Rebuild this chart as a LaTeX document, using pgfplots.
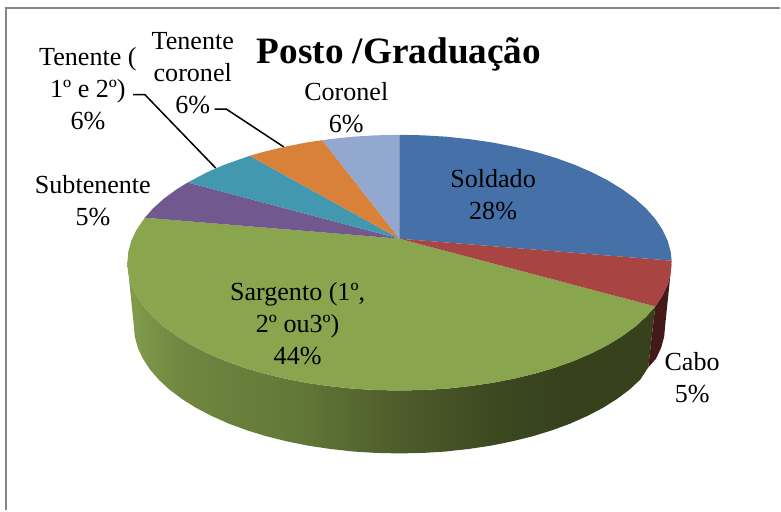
\documentclass[border=0pt]{standalone}
\usepackage{pgfplots}
\pgfplotsset{compat=1.18}
\usepackage{fontspec}
\setmainfont{Liberation Serif}
\definecolor{cSol}{HTML}{4571A8}
\definecolor{cCab}{HTML}{A84442}
\definecolor{cSar}{HTML}{89A54E}
\definecolor{cSub}{HTML}{71588F}
\definecolor{cTen}{HTML}{4198AF}
\definecolor{cTC}{HTML}{D98139}
\definecolor{cCor}{HTML}{92A8CE}
\definecolor{cCabS}{HTML}{431A19}
\definecolor{frameC}{HTML}{868686}
\definecolor{g1}{HTML}{829D4C}
\definecolor{g2}{HTML}{6F8740}
\definecolor{g3}{HTML}{627838}
\definecolor{g4}{HTML}{4D5C2B}
\definecolor{g5}{HTML}{3C4820}
\definecolor{g6}{HTML}{37421D}
\pgfdeclarehorizontalshading{sideg}{100bp}{color(0bp)=(g1); color(25bp)=(g1); color(30bp)=(g2); color(41bp)=(g3); color(51bp)=(g4); color(60bp)=(g5); color(66bp)=(g6); color(100bp)=(g6)}
\tikzset{lbl/.style={font=\fontsize{26.2}{32}\selectfont, align=center, text=black, inner sep=0pt, anchor=center}}
\begin{document}
\begin{tikzpicture}
\begin{axis}[scale only axis, width=781bp, height=511bp,
  xmin=0, xmax=781, ymin=0, ymax=511, y dir=reverse,
  axis lines=none, clip=false, no markers]
\path (axis cs:0,0) rectangle (axis cs:781,511);
% chart frame
\addplot[frameC, line width=2pt] coordinates {(781,7.7) (5.7,7.7) (5.7,511)};
% side of Sargento
\addplot[draw=none, shading=sideg] coordinates {
(656.1,306.8)(647,317.1)(636,327)(623.2,336.4)(608.7,345.3)(592.7,353.5)(575.2,361.1)(556.3,367.9)(536.3,373.9)(515.2,379)(493.2,383.3)(470.5,386.6)(447.3,389.1)(423.8,390.5)(400,391)
(376.2,390.5)(352.7,389.1)(329.5,386.6)(306.8,383.3)(284.8,379)(263.7,373.9)(243.7,367.9)(224.8,361.1)(207.3,353.5)(191.3,345.3)(176.8,336.4)(164,327)(153,317.1)(143.9,306.8)(136.8,296.1)(131.6,285.2)(128.5,274.2)(127.5,263)
(134,326)(135,337.2)(138,348.2)(143.1,359.1)(150,369.8)(158.9,380.1)(169.6,390)(182.1,399.4)(196.2,408.3)(211.9,416.5)(229,424.1)(247.4,430.9)(267,436.9)(287.6,442)(309,446.3)(331.2,449.6)(353.8,452.1)(376.8,453.5)(400,454)
(423.2,453.5)(446.2,452.1)(468.8,449.6)(491,446.3)(512.4,442)(533,436.9)(552.6,430.9)(571,424.1)(588.1,416.5)(603.8,408.3)(617.9,399.4)(630.4,390)(641.1,380.1)(649,368)
} -- cycle;
% side of Cabo
\addplot[draw=none, fill=cCabS] coordinates {
(656.1,306.8)(663.2,296.1)(668.4,285.2)(671.5,274.2)(672.5,263)(666,326)(665,337.2)(662,348.2)(656.9,359.1)(649,368)
} -- cycle;
% top: Sargento
\addplot[draw=none, fill=cSar] coordinates {
(400,239)(656.1,306.8)(647,317.1)(636,327)(623.2,336.4)(608.7,345.3)(592.7,353.5)(575.2,361.1)(556.3,367.9)(536.3,373.9)(515.2,379)(493.2,383.3)(470.5,386.6)(447.3,389.1)(423.8,390.5)(400,391)
(376.2,390.5)(352.7,389.1)(329.5,386.6)(306.8,383.3)(284.8,379)(263.7,373.9)(243.7,367.9)(224.8,361.1)(207.3,353.5)(191.3,345.3)(176.8,336.4)(164,327)(153,317.1)(143.9,306.8)(136.8,296.1)(131.6,285.2)(128.5,274.2)(127.5,263)(128.5,251.8)(131.6,240.8)(136.8,229.9)(145,218)
} -- cycle;
% top: Subtenente
\addplot[draw=none, fill=cSub] coordinates {
(400,239)(145,218)(153,208.9)(164,199)(176.8,189.6)(188,182.7)
} -- cycle;
% top: Tenente
\addplot[draw=none, fill=cTen] coordinates {
(400,239)(188,182.7)(207.3,172.5)(224.8,164.9)(250,156)
} -- cycle;
% top: Tenente coronel
\addplot[draw=none, fill=cTC] coordinates {
(400,239)(250,156)(263.7,152.1)(284.8,147)(306.8,142.7)(322.7,140.4)
} -- cycle;
% top: Coronel
\addplot[draw=none, fill=cCor] coordinates {
(400,239)(322.7,140.4)(329.5,139.4)(352.7,136.9)(376.2,135.5)(400,135)
} -- cycle;
% top: Soldado
\addplot[draw=none, fill=cSol] coordinates {
(400,239)(400,135)(423.8,135.5)(447.3,136.9)(470.5,139.4)(493.2,142.7)(515.2,147)(536.3,152.1)(556.3,158.1)(575.2,164.9)(592.7,172.5)(608.7,180.7)(623.2,189.6)(636,199)(647,208.9)(656.1,219.2)(663.2,229.9)(668.4,240.8)(671.5,251.8)(672.5,261)
} -- cycle;
% top: Cabo
\addplot[draw=none, fill=cCab] coordinates {
(400,239)(672.5,261)(671.5,274.2)(668.4,285.2)(663.2,296.1)(656.1,306.8)
} -- cycle;
% leader lines
\addplot[black, line width=1.5pt] coordinates {(133.3,94.7)(145,94.7)(216,168.3)};
\addplot[black, line width=1.5pt] coordinates {(215,109.3)(226.7,109.3)(284,147)};
% labels
\node[lbl] at (axis cs:399.5,54.5) {\fontsize{37.4}{44}\selectfont\bfseries Posto /Graduação};
\node[lbl] at (axis cs:493.7,195) {Soldado\\28\%};
\node[lbl] at (axis cs:693,378) {Cabo\\5\%};
\node[lbl] at (axis cs:298,324) {Sargento (1º,\\2º ou3º)\\44\%};
\node[lbl] at (axis cs:93,201) {Subtenente\\5\%};
\node[lbl] at (axis cs:88,89) {Tenente (\\1º e 2º)\\6\%};
\node[lbl] at (axis cs:193,73.5) {Tenente\\coronel\\6\%};
\node[lbl] at (axis cs:346.7,108) {Coronel\\6\%};
\end{axis}
\end{tikzpicture}
\end{document}
